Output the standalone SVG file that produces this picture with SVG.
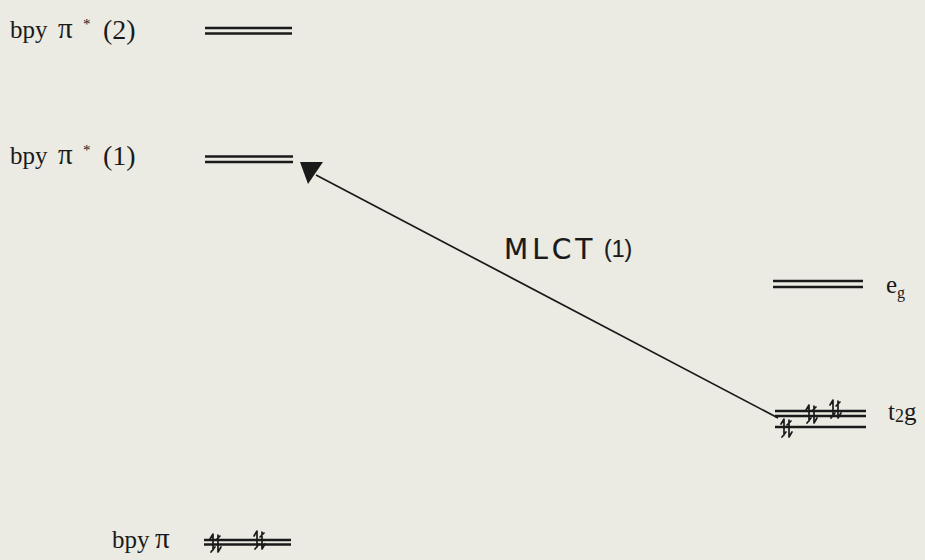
<svg xmlns="http://www.w3.org/2000/svg" width="925" height="560" viewBox="0 0 925 560">
<style>
.lbl{font-family:"Liberation Serif","Times New Roman",serif;font-size:25px;fill:#1a1a1a}
.pi{font-size:29px}
.par{font-size:28px}
.lvl{stroke:#1a1a1a;stroke-width:2.4;fill:none}
.e{stroke:#1a1a1a;stroke-width:1.7;fill:none;stroke-linecap:round;stroke-linejoin:round}
.hand{font-family:"DejaVu Sans",sans-serif;font-size:28px;fill:#1a1a1a;stroke:#1a1a1a;stroke-width:0.2;letter-spacing:4px}
</style>
<defs>
<g id="pair">
<path class="e" d="M-3,7 L-3,-9 L-6,-4 M2,-8 L2,9 L5,4 M-5,9 L-1,4 M0,-3 L4,-7"/>
</g>
</defs>
<rect width="925" height="560" fill="#ebebe4"/>
<g id="bpy-pi-star-2">
<text class="lbl" x="10" y="38">bpy<tspan class="pi" x="58" y="38">π</tspan><tspan x="83" y="29" font-size="15">*</tspan><tspan class="par" x="103" y="39">(2)</tspan></text>
<line class="lvl" x1="205" y1="28" x2="292" y2="28"/>
<line class="lvl" x1="205" y1="33.5" x2="292" y2="33.5"/>
</g>
<g id="bpy-pi-star-1">
<text class="lbl" x="10" y="164">bpy<tspan class="pi" x="58" y="164">π</tspan><tspan x="83" y="155" font-size="15">*</tspan><tspan class="par" x="103" y="165">(1)</tspan></text>
<line class="lvl" x1="205" y1="156.5" x2="293" y2="156.5"/>
<line class="lvl" x1="205" y1="162" x2="293" y2="162"/>
</g>
<g id="eg">
<line class="lvl" x1="773" y1="281" x2="863" y2="281"/>
<line class="lvl" x1="773" y1="287" x2="863" y2="287"/>
<text class="lbl" x="886" y="293">e<tspan font-size="16" dy="5">g</tspan></text>
</g>
<g id="t2g">
<line class="lvl" x1="775" y1="411" x2="866" y2="411"/>
<line class="lvl" x1="775" y1="416" x2="866" y2="416"/>
<line class="lvl" x1="775" y1="427" x2="866" y2="427"/>
<use href="#pair" x="787" y="428"/>
<use href="#pair" x="812" y="414"/>
<use href="#pair" x="836" y="409"/>
<text class="lbl" x="888" y="420">t<tspan font-size="18" dy="2">2</tspan><tspan dy="-2">g</tspan></text>
</g>
<g id="bpy-pi">
<text class="lbl" x="112" y="548">bpy<tspan class="pi" x="155">π</tspan></text>
<line class="lvl" x1="204" y1="540" x2="291" y2="540"/>
<line class="lvl" x1="204" y1="544.5" x2="291" y2="544.5"/>
<use href="#pair" x="216" y="543"/>
<use href="#pair" x="260" y="540"/>
</g>
<g id="connectors">
<line x1="778" y1="418" x2="316" y2="175" stroke="#1a1a1a" stroke-width="1.7"/>
<polygon points="300,162 323,162 308,184" fill="#1a1a1a"/>
<text class="hand" x="504" y="259">MLCT<tspan x="604" font-size="23" y="257" letter-spacing="0" font-family="Liberation Sans, sans-serif">(1)</tspan></text>
</g>
</svg>
